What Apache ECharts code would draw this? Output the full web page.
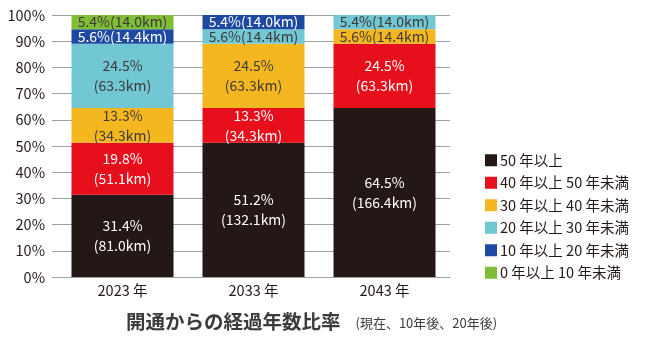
<!DOCTYPE html>
<html><head><meta charset="utf-8">
<script src="https://cdn.jsdelivr.net/npm/echarts@6/dist/echarts.min.js"></script>
<style>html,body{margin:0;padding:0;background:#fff}#c{width:656px;height:355px}</style>
</head><body><div id="c"></div>
<script>
const categories = ['2023 年', '2033 年', '2043 年'];
const seriesNames = ['50 年以上', '40 年以上 50 年未満', '30 年以上 40 年未満', '20 年以上 30 年未満', '10 年以上 20 年未満', '0 年以上 10 年未満'];
const pct50 = [31.4, 51.2, 64.5];
const pct40 = [19.8, 13.3, 24.5];
const pct30 = [13.3, 24.5, 5.6];
const pct20 = [24.5, 5.6, 5.4];
const pct10 = [5.6, 5.4, 0];
const pct0 = [5.4, 0, 0];
const km50 = [81.0, 132.1, 166.4];
const km40 = [51.1, 34.3, 63.3];
const km30 = [34.3, 63.3, 14.4];
const km20 = [63.3, 14.4, 14.0];
const km10 = [14.4, 14.0, 0];
const km0 = [14.0, 0, 0];
const yTicks = [0, 10, 20, 30, 40, 50, 60, 70, 80, 90, 100];

const pcts = [pct50, pct40, pct30, pct20, pct10, pct0];
const kms = [km50, km40, km30, km20, km10, km0];
const colors = ['#231815', '#e60f1b', '#f4b71f', '#72c7d4', '#1d4aa0', '#80bd38'];
const labelColors = ['#ffffff', '#ffffff', '#3e3a39', '#3e3a39', '#ffffff', '#3e3a39'];
const FONT = '"Noto Sans CJK JP", "Noto Sans", sans-serif';

const chart = echarts.init(document.getElementById('c'), null, {renderer: 'canvas'});
const series = seriesNames.map((name, si) => ({
  name: name,
  type: 'bar',
  stack: 'total',
  barWidth: 102,
  itemStyle: {color: colors[si]},
  label: {
    show: true,
    position: 'inside',
    color: labelColors[si],
    fontFamily: FONT,
    fontSize: 14,
    lineHeight: 20,
    formatter: (p) => {
      const v = p.value;
      if (!v) return '';
      const km = kms[si][p.dataIndex].toFixed(1);
      return v >= 10 ? v.toFixed(1) + '%\n(' + km + 'km)' : v.toFixed(1) + '%(' + km + 'km)';
    }
  },
  emphasis: {disabled: true},
  data: pcts[si]
}));

chart.setOption({
  animation: false,
  title: {
    text: '{a|開通からの経過年数比率}{b|(現在、10年後、20年後)}',
    left: 121,
    top: 307,
    textStyle: {
      rich: {
        a: {fontFamily: FONT, fontSize: 19.5, fontWeight: 'bold', color: '#3e3a39'},
        b: {fontFamily: FONT, fontSize: 13, fontWeight: 'normal', color: '#3e3a39', padding: [2, 0, 0, 15]}
      }
    }
  },
  legend: {
    orient: 'vertical',
    left: 480,
    top: 148,
    itemWidth: 12,
    itemHeight: 12,
    itemGap: 8,
    icon: 'rect',
    textStyle: {fontFamily: FONT, fontSize: 14.5, color: '#231815', padding: [0, 0, 0, -2]},
    data: seriesNames
  },
  grid: {left: 57, right: 206, top: 15, bottom: 78},
  xAxis: {
    type: 'category',
    data: categories,
    axisLine: {show: true, lineStyle: {color: '#9fa0a0', width: 1}},
    axisTick: {show: false},
    axisLabel: {fontFamily: FONT, fontSize: 14.5, color: '#231815', margin: 6}
  },
  yAxis: {
    type: 'value',
    min: yTicks[0],
    max: yTicks[yTicks.length - 1],
    interval: 10,
    axisLine: {show: false},
    axisTick: {show: true, length: 5, lineStyle: {color: '#9fa0a0'}},
    splitLine: {lineStyle: {color: '#9fa0a0', width: 1}},
    axisLabel: {fontFamily: FONT, fontSize: 14.5, color: '#231815', margin: 12, formatter: '{value}%'}
  },
  series: series
});
</script>
</body></html>
